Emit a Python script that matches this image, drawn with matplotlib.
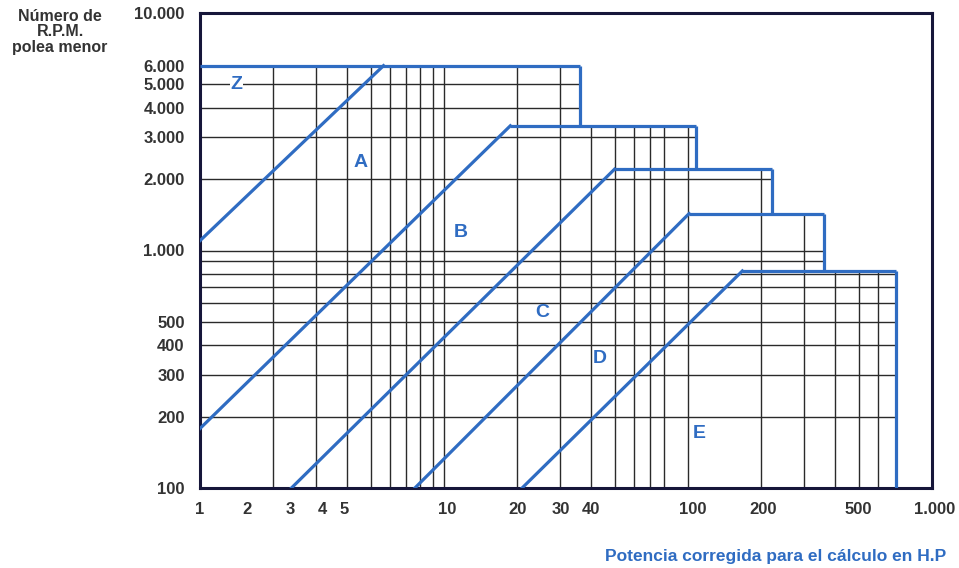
"""Belt section chart: small pulley rpm vs corrected power (HP)."""

import matplotlib.pyplot as plt
from matplotlib.transforms import ScaledTranslation

# grid lines (clipped to the staircase)
x_grid = [2, 3, 4, 5, 6, 7, 8, 9, 10, 20, 30, 40, 50, 60, 70, 80,
          100, 200, 300, 400, 500, 600]
y_grid = [200, 300, 400, 500, 600, 700, 800, 900, 1000,
          2000, 3000, 4000, 5000]

# staircase: top rpm of each step and its right edge in HP
top_rpm = [6000, 3350, 2200, 1430, 820]
top_end_hp = [36, 108, 220, 360, 715]

# diagonal boundaries between belt sections
diag_hp0 = [1, 1, 2.37, 7.6, 20.9]
diag_rpm0 = [1100, 178, 100, 100, 100]
diag_hp1 = [5.65, 18.7, 50, 101, 167]
diag_rpm1 = [6000, 3350, 2200, 1430, 820]

sections = ['Z', 'A', 'B', 'C', 'D', 'E']
sec_hp = [1.41, 4.55, 11.7, 25.3, 43.6, 111]
sec_rpm = [5000, 2350, 1190, 546, 352, 170]

x_ticks = [1, 2, 3, 4, 5, 10, 20, 30, 40, 100, 200, 500, 1000]
x_labels = ['1', '2', '3', '4', '5', '10', '20', '30', '40',
            '100', '200', '500', '1.000']
y_ticks = [100, 200, 300, 400, 500, 1000, 2000, 3000, 4000, 5000,
           6000, 10000]
y_labels = ['100', '200', '300', '400', '500', '1.000', '2.000',
            '3.000', '4.000', '5.000', '6.000', '10.000']

BLUE = '#2f6cc2'
GRID = '#2a2a2a'
FONT = ['Liberation Sans', 'DejaVu Sans']


def top_at(x):
    for r, e in zip(top_rpm, top_end_hp):
        if x <= e:
            return r
    return None


def right_at(y):
    right = None
    for r, e in zip(top_rpm, top_end_hp):
        if r >= y:
            right = e
    return right


fig = plt.figure(figsize=(9.59, 5.68), dpi=100)
ax = fig.add_axes([200/959, 80/568, 732/959, 475/568])
ax.set_xscale('log')
ax.set_yscale('log')
ax.set_xlim(1, 1000)
ax.set_ylim(100, 10000)

for x in x_grid:
    ax.vlines(x, 100, top_at(x), color=GRID, lw=1.0, zorder=1)
for y in y_grid:
    ax.hlines(y, 1, right_at(y), color=GRID, lw=1.0, zorder=1)

# blue staircase outline
top_start = [1] + diag_hp1[1:]
for i in range(len(top_rpm)):
    ax.plot([top_start[i], top_end_hp[i]], [top_rpm[i], top_rpm[i]],
            color=BLUE, lw=2.3, zorder=3, solid_capstyle='butt')
    nxt = top_rpm[i + 1] if i + 1 < len(top_rpm) else 100
    ax.plot([top_end_hp[i], top_end_hp[i]], [top_rpm[i], nxt],
            color=BLUE, lw=2.3, zorder=3, solid_capstyle='butt')

for h0, r0, h1, r1 in zip(diag_hp0, diag_rpm0, diag_hp1, diag_rpm1):
    ax.plot([h0, h1], [r0, r1], color=BLUE, lw=2.3, zorder=3)

for s, h, r in zip(sections, sec_hp, sec_rpm):
    ax.text(h, r, s, color=BLUE, fontsize=14, fontweight='bold',
            family=FONT, ha='center', va='center', zorder=4,
            bbox=dict(facecolor='white', edgecolor='none', pad=0.5)
            if s == 'Z' else None)

ax.set_xticks(x_ticks)
ax.set_xticklabels(x_labels)
ax.set_yticks(y_ticks)
ax.set_yticklabels(y_labels)
ax.minorticks_off()
ax.tick_params(length=0, colors='#333333', labelsize=12)
ax.tick_params(axis='x', pad=10)
ax.tick_params(axis='y', pad=11)
for lab in ax.get_xticklabels() + ax.get_yticklabels():
    lab.set_family(FONT)
    lab.set_fontweight('bold')

# some HP labels sit a little off their grid lines in the original
shift_px = [0, -26, -26, -25, -26, 3, 0, 0, 0, 5, 2, 0, 3]
for lab, dx in zip(ax.get_xticklabels(), shift_px):
    lab.set_transform(lab.get_transform() +
                      ScaledTranslation(dx / 100, 0, fig.dpi_scale_trans))

for sp in ax.spines.values():
    sp.set_linewidth(2.2)
    sp.set_color('#16163a')

fig.text(60/959, 1 - 32/568, 'Número de\nR.P.M.\npolea menor',
         ha='center', va='center', fontsize=11.5, fontweight='bold',
         family=FONT, color='#333333', linespacing=1.05)
fig.text(776/959, 1 - 557/568, 'Potencia corregida para el cálculo en H.P',
         ha='center', va='center', fontsize=12.5, fontweight='bold',
         family=FONT, color=BLUE)

fig.savefig('out.png', dpi=100)
